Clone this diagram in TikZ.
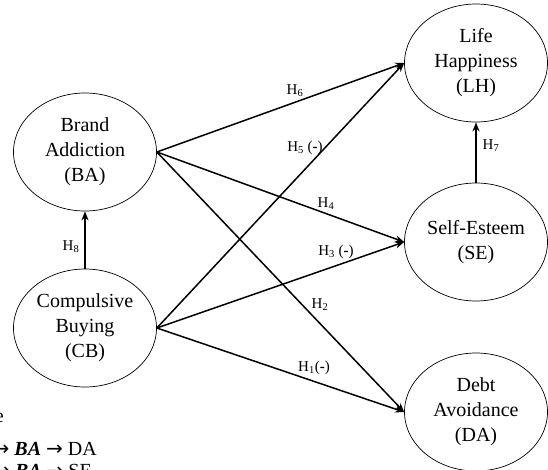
\documentclass[tikz,border=0pt]{standalone}
\usepackage{fontspec}
\setmainfont{Liberation Serif}
\newfontfamily\arrowfont{DejaVu Sans}
\usetikzlibrary{shapes.geometric,arrows.meta}

\begin{document}
\begin{tikzpicture}[
		x=1pt, y=-1pt,
		arrow/.style={-{Stealth[length=9pt,width=7pt]}, line width=1.5pt},
		construct/.style={ellipse, draw, line width=0.7pt, minimum width=143pt,
			minimum height=118pt, inner sep=0pt, align=center,
			font=\fontsize{20}{25}\selectfont},
		hyp/.style={font=\fontsize{15}{17}\selectfont, inner sep=1pt},
		legend/.style={anchor=base east, inner sep=0pt, font=\fontsize{20}{22}\selectfont}
		]
		\useasboundingbox (0,0) rectangle (548,469);
		\clip (0,0) rectangle (548,469);
		
		% ---- Left column: antecedents ----
		\node[construct] (ba) at (85, 152) {Brand\\Addiction\\(BA)};
		\node[construct] (cb) at (85, 328) {Compulsive\\Buying\\(CB)};
		
		% ---- Right column: outcomes ----
		\node[construct] (lh) at (476, 63)  {Life\\Happiness\\(LH)};
		\node[construct] (se) at (476, 242) {Self-Esteem\\(SE)};
		\node[construct] (da) at (476, 412) {Debt\\Avoidance\\(DA)};
		
		% ---- Paths ----
		\draw[arrow] (cb.north) -- (ba.south);
		\draw[arrow] (se.north) -- (lh.south);
		\draw[arrow] (ba.east) -- (lh.west);
		\draw[arrow] (ba.east) -- (se.west);
		\draw[arrow] (ba.east) -- (da.west);
		\draw[arrow] (cb.east) -- (lh.west);
		\draw[arrow] (cb.east) -- (se.west);
		\draw[arrow] (cb.east) -- (da.west);
		
		% ---- Hypothesis labels ----
		\node[hyp] (h1) at (314, 368) {H\textsubscript{1}(\textbf{-})};
		\node[hyp] (h2) at (320, 305) {H\textsubscript{2}};
		\node[hyp] (h3) at (336, 252) {H\textsubscript{3} (\textbf{-})};
		\node[hyp] (h4) at (326, 204) {H\textsubscript{4}};
		\node[hyp] (h5) at (305, 148) {H\textsubscript{5} (\textbf{-})};
		\node[hyp] (h6) at (295, 91)  {H\textsubscript{6}};
		\node[hyp] (h7) at (491, 146) {H\textsubscript{7}};
		\node[hyp] (h8) at (71, 247)  {H\textsubscript{8}};
		
		% ---- Note (cut at the page edge) ----
		\node[legend] (note) at (4, 422) {e};
		\node[legend] (mda) at (97, 455) {{\arrowfont →} \textbf{\textit{BA}} {\arrowfont →} DA};
		\node[legend] (mse) at (92, 477) {{\arrowfont →} \textbf{\textit{BA}} {\arrowfont →} SE};
	\end{tikzpicture}
\end{document}
